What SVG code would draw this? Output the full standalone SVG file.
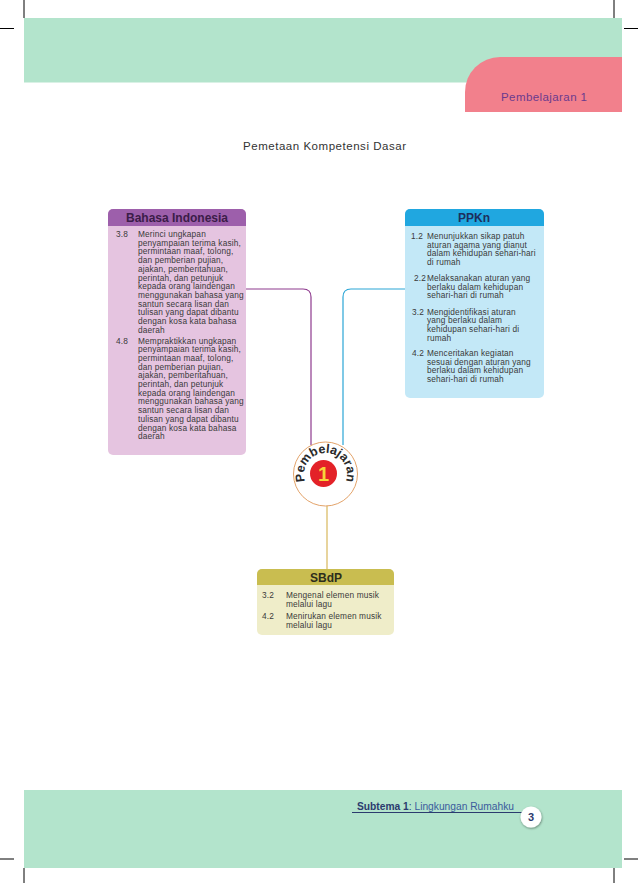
<svg xmlns="http://www.w3.org/2000/svg" width="638" height="883" viewBox="0 0 638 883">
<defs>
<style>
.crop{stroke:#000;stroke-width:1}
.body{font-family:"Liberation Sans",Arial,sans-serif;font-size:8.3px;letter-spacing:0.15px;fill:#3a3a3a}
.hdr{font-family:"Liberation Sans",Arial,sans-serif;font-size:12px;font-weight:bold;text-anchor:middle}
.conn{fill:none;stroke-width:1.2}
</style>
<filter id="sh" x="-50%" y="-50%" width="200%" height="200%">
<feDropShadow dx="0.5" dy="1" stdDeviation="1" flood-color="#000" flood-opacity="0.45"/>
</filter>
<path id="arc" d="M305.3,481.8 A21.5,21.5 0 1 1 345.7,481.8"/>
</defs>
<rect width="638" height="883" fill="#fff"/>

<g id="header-band">
<rect x="24" y="18" width="598" height="64.5" fill="#b3e4cc"/>
<path d="M465,112 V92 A35,35 0 0 1 500,57 H622 V112 Z" fill="#f2808c"/>
<text x="501" y="101" font-family="Liberation Sans,Arial,sans-serif" font-size="11.5" fill="#6b3a8e" textLength="86">Pembelajaran 1</text>
</g>

<g id="crop-marks">
<line class="crop" x1="24" y1="0" x2="24" y2="18"/>
<line class="crop" x1="614" y1="0" x2="614" y2="18"/>
<line class="crop" x1="0" y1="28.5" x2="14" y2="28.5"/>
<line class="crop" x1="624" y1="28.5" x2="638" y2="28.5"/>
<line class="crop" x1="0" y1="859" x2="14" y2="859"/>
<line class="crop" x1="624" y1="859" x2="638" y2="859"/>
<line class="crop" x1="24" y1="868" x2="24" y2="883"/>
<line class="crop" x1="614" y1="868" x2="614" y2="883"/>
</g>

<text id="title" x="243" y="150" font-family="Liberation Sans,Arial,sans-serif" font-size="11.5" fill="#333" textLength="163">Pemetaan Kompetensi Dasar</text>

<g id="connectors">
<path class="conn" stroke="#8e3a8e" d="M246,289 H303 Q311,289 311,297 V445"/>
<path class="conn" stroke="#2ba6d6" d="M405,289 H351 Q343,289 343,297 V445"/>
<path class="conn" stroke="#d8b85c" d="M327,505 V570"/>
</g>

<g id="bahasa-indonesia">
<rect x="108" y="209" width="138" height="246" rx="5" fill="#e5c4e0"/>
<path d="M108,226 V214 A5,5 0 0 1 113,209 H241 A5,5 0 0 1 246,214 V226 Z" fill="#9d5fab"/>
<text class="hdr" x="177" y="222" fill="#3b1c48">Bahasa Indonesia</text>
<g class="body">
<text x="116" y="237">3.8</text>
<text x="138" y="237">Merinci ungkapan</text>
<text x="138" y="245.7">penyampaian terima kasih,</text>
<text x="138" y="254.4">permintaan maaf, tolong,</text>
<text x="138" y="263.1">dan pemberian pujian,</text>
<text x="138" y="271.8">ajakan, pemberitahuan,</text>
<text x="138" y="280.5">perintah, dan petunjuk</text>
<text x="138" y="289.2">kepada orang laindengan</text>
<text x="138" y="297.9">menggunakan bahasa yang</text>
<text x="138" y="306.6">santun secara lisan dan</text>
<text x="138" y="315.3">tulisan yang dapat dibantu</text>
<text x="138" y="324">dengan kosa kata bahasa</text>
<text x="138" y="332.7">daerah</text>
<text x="116" y="343.5">4.8</text>
<text x="138" y="343.5">Mempraktikkan ungkapan</text>
<text x="138" y="352.2">penyampaian terima kasih,</text>
<text x="138" y="360.9">permintaan maaf, tolong,</text>
<text x="138" y="369.6">dan pemberian pujian,</text>
<text x="138" y="378.3">ajakan, pemberitahuan,</text>
<text x="138" y="387">perintah, dan petunjuk</text>
<text x="138" y="395.7">kepada orang laindengan</text>
<text x="138" y="404.4">menggunakan bahasa yang</text>
<text x="138" y="413.1">santun secara lisan dan</text>
<text x="138" y="421.8">tulisan yang dapat dibantu</text>
<text x="138" y="430.5">dengan kosa kata bahasa</text>
<text x="138" y="439.2">daerah</text>
</g>
</g>

<g id="ppkn">
<rect x="405" y="209" width="139" height="189" rx="5" fill="#c3e8f7"/>
<path d="M405,226 V214 A5,5 0 0 1 410,209 H539 A5,5 0 0 1 544,214 V226 Z" fill="#20a7e0"/>
<text class="hdr" x="474" y="222" fill="#1d2f5c">PPKn</text>
<g class="body">
<text x="411" y="239">1.2</text>
<text x="427" y="239">Menunjukkan sikap patuh</text>
<text x="427" y="247.7">aturan agama yang dianut</text>
<text x="427" y="256.4">dalam kehidupan sehari-hari</text>
<text x="427" y="265.1">di rumah</text>
<text x="414" y="281">2.2</text>
<text x="427" y="281">Melaksanakan aturan yang</text>
<text x="427" y="289.7">berlaku dalam kehidupan</text>
<text x="427" y="298.4">sehari-hari di rumah</text>
<text x="412" y="314.5">3.2</text>
<text x="427" y="314.5">Mengidentifikasi aturan</text>
<text x="427" y="323.2">yang berlaku dalam</text>
<text x="427" y="331.9">kehidupan sehari-hari di</text>
<text x="427" y="340.6">rumah</text>
<text x="412" y="356">4.2</text>
<text x="427" y="356">Menceritakan kegiatan</text>
<text x="427" y="364.7">sesuai dengan aturan yang</text>
<text x="427" y="373.4">berlaku dalam kehidupan</text>
<text x="427" y="382.1">sehari-hari di rumah</text>
</g>
</g>

<g id="pembelajaran-1">
<circle cx="325.5" cy="474" r="32" fill="#fff" stroke="#e3a36a" stroke-width="1"/>
<circle cx="323.5" cy="473.5" r="13.5" fill="#e32228"/>
<text x="323.5" y="481" font-family="Liberation Sans,Arial,sans-serif" font-size="20" font-weight="bold" fill="#f7d63a" text-anchor="middle">1</text>
<text font-family="Liberation Sans,Arial,sans-serif" font-size="12.5" font-weight="bold" fill="#2a2a2a"><textPath href="#arc" startOffset="50%" text-anchor="middle">Pembelajaran</textPath></text>
</g>

<g id="sbdp">
<rect x="257" y="569" width="137" height="66" rx="5" fill="#efedc9"/>
<path d="M257,585 V574 A5,5 0 0 1 262,569 H389 A5,5 0 0 1 394,574 V585 Z" fill="#c9bd50"/>
<text class="hdr" x="326" y="581.5" fill="#2d2d1c">SBdP</text>
<g class="body">
<text x="262" y="598">3.2</text>
<text x="286" y="598">Mengenal elemen musik</text>
<text x="286" y="606.7">melalui lagu</text>
<text x="262" y="619">4.2</text>
<text x="286" y="619">Menirukan elemen musik</text>
<text x="286" y="627.7">melalui lagu</text>
</g>
</g>

<g id="footer-band">
<rect x="24" y="790" width="598" height="78" fill="#b3e4cc"/>
<line x1="352" y1="812.5" x2="522" y2="812.5" stroke="#2b3b6e" stroke-width="1"/>
<text x="357" y="810" font-family="Liberation Sans,Arial,sans-serif" font-size="10" textLength="157" lengthAdjust="spacingAndGlyphs"><tspan font-weight="bold" fill="#2b3b6e">Subtema 1</tspan><tspan fill="#2b3b6e">:</tspan><tspan fill="#3b5c9c"> Lingkungan Rumahku</tspan></text>
<circle cx="531" cy="817" r="10.5" fill="#fff" filter="url(#sh)"/>
<text x="531" y="821" font-family="Liberation Sans,Arial,sans-serif" font-size="11" font-weight="bold" fill="#2b3b6e" text-anchor="middle">3</text>
</g>
</svg>
